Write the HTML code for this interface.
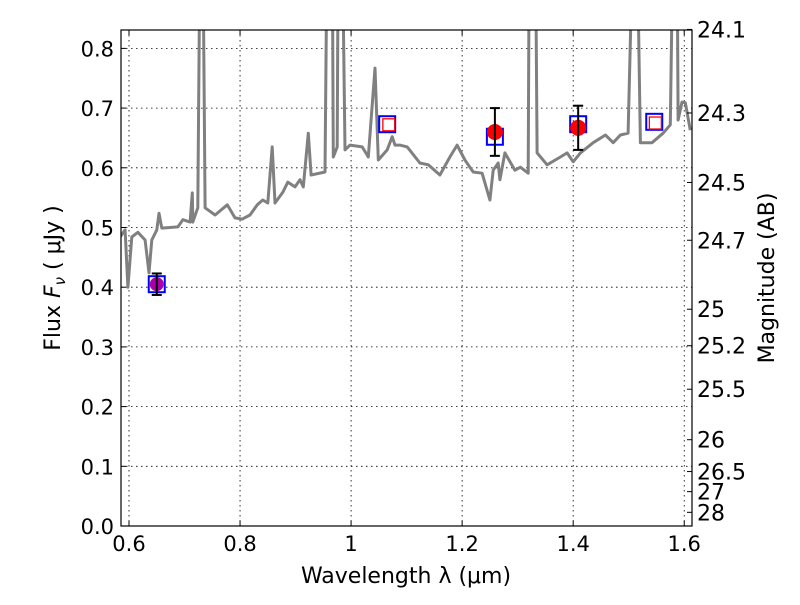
<!DOCTYPE html>
<html><head><meta charset="utf-8"><style>
body{margin:0;background:#fff;}
svg text{font-family:"DejaVu Sans","Liberation Sans",sans-serif;fill:#000;}
</style></head><body>
<svg id="chart" width="800" height="600" viewBox="0 0 800 600" xmlns="http://www.w3.org/2000/svg">
<defs><clipPath id="clip"><rect x="121" y="30" width="571" height="496"/></clipPath></defs>
<rect x="0" y="0" width="800" height="600" fill="#fff"/>
<g id="grid"></g>
<g id="series" clip-path="url(#clip)"></g>
<rect x="121" y="30" width="571" height="496" fill="none" stroke="#000" stroke-width="1.2"/>
<g id="axes"></g>
<text x="406" y="583" font-size="22" text-anchor="middle">Wavelength  λ (μm)</text>
<text transform="translate(60,278) rotate(-90)" font-size="22" text-anchor="middle">Flux  <tspan font-style="italic">F</tspan><tspan font-size="15" font-style="italic" dy="5">ν</tspan><tspan dy="-5">  ( μJy )</tspan></text>
<text transform="translate(774,278) rotate(-90)" font-size="22" text-anchor="middle">Magnitude (AB)</text>
</svg>
<script>
const specWave=[0.584,0.593,0.598,0.605,0.616,0.629,0.636,0.641,0.650,0.654,0.659,0.688,0.697,0.710,0.714,0.715,0.724,0.728,0.733,0.737,0.755,0.777,0.791,0.804,0.818,0.831,0.841,0.850,0.858,0.863,0.877,0.886,0.899,0.908,0.914,0.923,0.928,0.953,0.957,0.966,0.968,0.975,0.977,0.984,0.989,0.998,1.020,1.031,1.043,1.049,1.065,1.074,1.079,1.088,1.101,1.124,1.139,1.160,1.178,1.191,1.205,1.220,1.236,1.250,1.256,1.265,1.268,1.277,1.295,1.305,1.319,1.321,1.332,1.335,1.353,1.377,1.389,1.400,1.413,1.436,1.458,1.472,1.485,1.499,1.508,1.515,1.521,1.542,1.562,1.575,1.580,1.587,1.589,1.596,1.602,1.611];
const specFlux=[0.484,0.496,0.400,0.484,0.492,0.479,0.424,0.479,0.496,0.524,0.499,0.501,0.513,0.509,0.558,0.509,0.533,1.0,1.0,0.533,0.521,0.538,0.516,0.514,0.521,0.538,0.546,0.541,0.635,0.541,0.559,0.576,0.568,0.580,0.568,0.658,0.588,0.593,1.0,1.0,0.618,0.635,1.0,1.0,0.630,0.638,0.635,0.618,0.767,0.613,0.630,0.652,0.638,0.638,0.635,0.608,0.605,0.588,0.618,0.638,0.613,0.593,0.591,0.546,0.596,0.608,0.580,0.625,0.596,0.601,0.591,1.0,1.0,0.625,0.605,0.618,0.625,0.610,0.625,0.642,0.655,0.642,0.655,0.658,1.0,1.0,0.642,0.642,0.658,0.672,1.0,1.0,0.680,0.710,0.709,0.663];
const bigSqWave=[0.650,1.065,1.259,1.409,1.546];
const bigSqFlux=[0.405,0.673,0.652,0.673,0.677];
const redSqWave=[1.068,1.548];
const redSqFlux=[0.672,0.675];
const redPtWave=[1.259,1.409];
const redPtFlux=[0.660,0.667];
const redPtErr=[0.040,0.037];
const purpWave=[0.650];
const purpFlux=[0.405];
const purpErr=[0.018];
const xTicks=[0.6,0.8,1.0,1.2,1.4,1.6];
const xTickLabels=["0.6","0.8","1","1.2","1.4","1.6"];
const yTicks=[0,0.1,0.2,0.3,0.4,0.5,0.6,0.7,0.8];
const yTickLabels=["0.0","0.1","0.2","0.3","0.4","0.5","0.6","0.7","0.8"];
const magTicks=[24.1,24.3,24.5,24.7,25,25.2,25.5,26,26.5,27,28];
const magTickLabels=["24.1","24.3","24.5","24.7","25","25.2","25.5","26","26.5","27","28"];

const NS="http://www.w3.org/2000/svg";
const X0=121,X1=692,Y0=526,Y1=30,XMIN=0.5856,XMAX=1.614,YMIN=0,YMAX=0.8308;
function sx(v){return X0+(v-XMIN)/(XMAX-XMIN)*(X1-X0);}
function sy(v){return Y0-(v-YMIN)/(YMAX-YMIN)*(Y0-Y1);}
function mk(tag,attrs,parent){const e=document.createElementNS(NS,tag);for(const k in attrs)e.setAttribute(k,attrs[k]);parent.appendChild(e);return e;}
const grid=document.getElementById('grid'),ser=document.getElementById('series'),axes=document.getElementById('axes');

xTicks.forEach((t,i)=>{
  const x=sx(t);
  const g=mk('line',{x1:x,x2:x,y1:Y1,y2:Y0,stroke:'#000','stroke-width':0.8,'stroke-dasharray':'1.5,3.5'},grid);
  
  
  mk('line',{x1:x,x2:x,y1:Y0,y2:Y0-5,stroke:'#000'},axes);
  mk('line',{x1:x,x2:x,y1:Y1,y2:Y1+5,stroke:'#000'},axes);
  const tx=mk('text',{x:x,y:Y0+25,'font-size':21,'text-anchor':'middle'},axes);
  tx.textContent=xTickLabels[i];
  
  
});
yTicks.forEach((t,i)=>{
  const y=sy(t);
  const g=mk('line',{x1:X0,x2:X1,y1:y,y2:y,stroke:'#000','stroke-width':0.8,'stroke-dasharray':'1.5,3.5'},grid);
  
  
  mk('line',{x1:X0,x2:X0+5,y1:y,y2:y,stroke:'#000'},axes);
  const tx=mk('text',{x:X0-7,y:y+8,'font-size':21,'text-anchor':'end'},axes);
  tx.textContent=yTickLabels[i];
  
  
});
magTicks.forEach((m,i)=>{
  const y=sy(Math.pow(10,(23.9-m)/2.5));
  mk('line',{x1:X1,x2:X1-5,y1:y,y2:y,stroke:'#000'},axes);
  const tx=mk('text',{x:X1+5,y:y+8,'font-size':22,'text-anchor':'start'},axes);
  tx.textContent=magTickLabels[i];
  
  
});

const pts=specWave.map((w,i)=>sx(w).toFixed(1)+','+sy(specFlux[i]).toFixed(1)).join(' ');
const line=mk('polyline',{points:pts,fill:'none',stroke:'#808080','stroke-width':3,'stroke-linejoin':'round'},ser);



bigSqWave.forEach((w,i)=>{
  const r=mk('rect',{x:sx(w)-8,y:sy(bigSqFlux[i])-8,width:16,height:16,fill:'none',stroke:'#0000ff','stroke-width':2},ser);
  
  
});
redSqWave.forEach((w,i)=>{
  const r=mk('rect',{x:sx(w)-6,y:sy(redSqFlux[i])-6,width:12,height:12,fill:'none',stroke:'#ff0000','stroke-width':1.3},ser);
  
  
});
function errbar(x,f,e){
  const yt=sy(f+e),yb=sy(f-e);
  mk('line',{x1:x,x2:x,y1:yt,y2:yb,stroke:'#000','stroke-width':2},ser);
  mk('line',{x1:x-5,x2:x+5,y1:yt,y2:yt,stroke:'#000','stroke-width':2},ser);
  mk('line',{x1:x-5,x2:x+5,y1:yb,y2:yb,stroke:'#000','stroke-width':2},ser);
}
redPtWave.forEach((w,i)=>{
  const c=mk('circle',{cx:sx(w),cy:sy(redPtFlux[i]),r:8,fill:'#ff0000'},ser);
  
  
  errbar(sx(w),redPtFlux[i],redPtErr[i]);
});
purpWave.forEach((w,i)=>{
  const c=mk('circle',{cx:sx(w),cy:sy(purpFlux[i]),r:7,fill:'#aa00aa'},ser);
  
  
  errbar(sx(w),purpFlux[i],purpErr[i]);
});
</script>
</body></html>
